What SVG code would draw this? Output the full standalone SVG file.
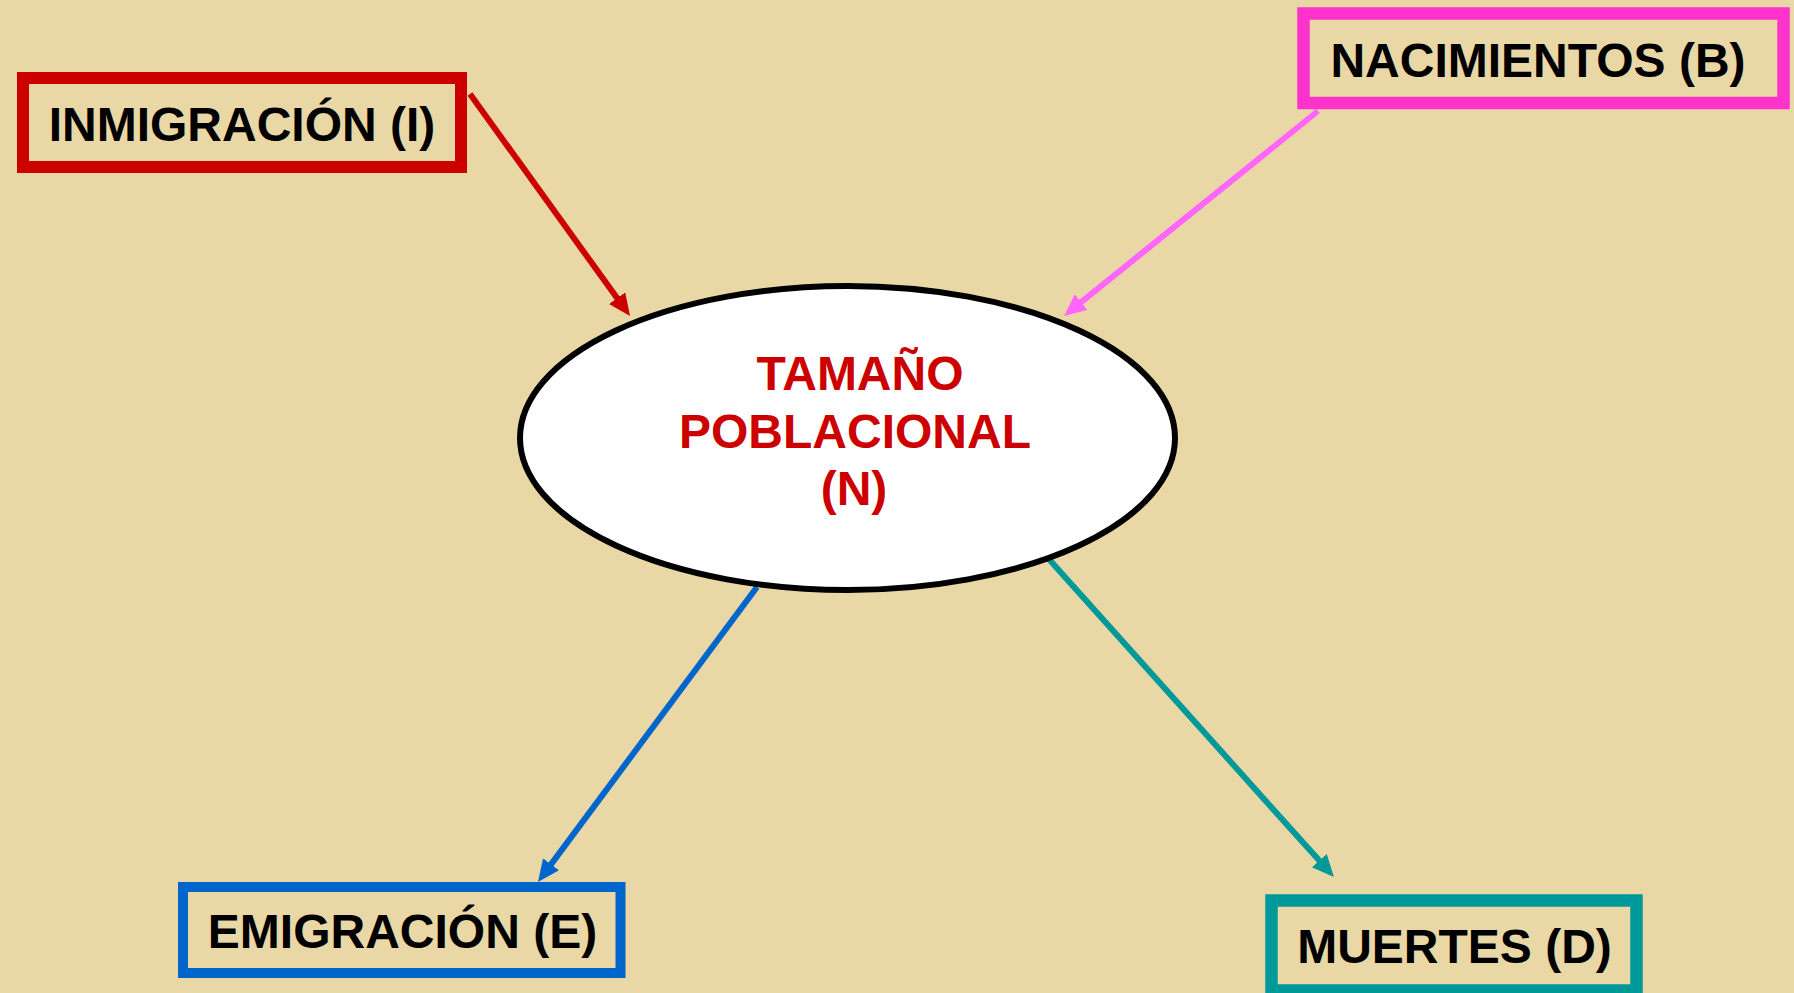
<svg xmlns="http://www.w3.org/2000/svg" width="1794" height="993" viewBox="0 0 1794 993">
<style>
.lbl{font-family:"Liberation Sans",Arial,sans-serif;font-weight:bold;font-size:48px;fill:#000;text-anchor:middle}
.ctr{font-family:"Liberation Sans",Arial,sans-serif;font-weight:bold;font-size:48px;fill:#CC0000;text-anchor:middle}
.box{fill:none}
.conn{stroke-width:6;fill:none}
</style>
<defs>
<marker id="ahRed" markerUnits="userSpaceOnUse" markerWidth="24" markerHeight="22" refX="2" refY="10" orient="auto"><path d="M0,0 L22,10 L0,20 z" fill="#CC0000"/></marker>
<marker id="ahPink" markerUnits="userSpaceOnUse" markerWidth="24" markerHeight="22" refX="2" refY="10" orient="auto"><path d="M0,0 L22,10 L0,20 z" fill="#FF66FF"/></marker>
<marker id="ahBlue" markerUnits="userSpaceOnUse" markerWidth="24" markerHeight="22" refX="2" refY="10" orient="auto"><path d="M0,0 L22,10 L0,20 z" fill="#0066CC"/></marker>
<marker id="ahTeal" markerUnits="userSpaceOnUse" markerWidth="24" markerHeight="22" refX="2" refY="10" orient="auto"><path d="M0,0 L22,10 L0,20 z" fill="#009999"/></marker>
</defs>
<rect x="0" y="0" width="1794" height="993" fill="#E9D7A5"/>
<g id="connectors">
<line class="conn" x1="470" y1="94" x2="618.3" y2="299.8" stroke="#CC0000" marker-end="url(#ahRed)"/>
<line class="conn" x1="1318" y1="111" x2="1079.6" y2="303.4" stroke="#FF66FF" marker-end="url(#ahPink)"/>
<line class="conn" x1="757" y1="587" x2="549.9" y2="865.9" stroke="#0066CC" marker-end="url(#ahBlue)"/>
<line class="conn" x1="1047" y1="557" x2="1320.6" y2="862.1" stroke="#009999" marker-end="url(#ahTeal)"/>
</g>
<g id="node-N">
<ellipse cx="847.5" cy="438" rx="327.5" ry="152" fill="#FFFFFF" stroke="#000" stroke-width="6"/>
<text class="ctr" x="860" y="390">TAMAÑO</text>
<text class="ctr" x="855" y="448">POBLACIONAL</text>
<text class="ctr" x="854" y="505">(N)</text>
</g>
<g id="node-I">
<rect class="box" x="23" y="78" width="438" height="89" stroke="#CC0000" stroke-width="12"/>
<text class="lbl" x="242" y="141">INMIGRACIÓN (I)</text>
</g>
<g id="node-B">
<rect class="box" x="1303.5" y="13.5" width="480" height="89.5" stroke="#FF33CC" stroke-width="12.5"/>
<text class="lbl" x="1538" y="77">NACIMIENTOS (B)</text>
</g>
<g id="node-E">
<rect class="box" x="183" y="887" width="437.5" height="86" stroke="#0066CC" stroke-width="10"/>
<text class="lbl" x="402.5" y="948">EMIGRACIÓN (E)</text>
</g>
<g id="node-D">
<rect class="box" x="1271.5" y="900.5" width="365" height="90" stroke="#009999" stroke-width="12.5"/>
<text class="lbl" x="1454.5" y="963">MUERTES (D)</text>
</g>
</svg>
